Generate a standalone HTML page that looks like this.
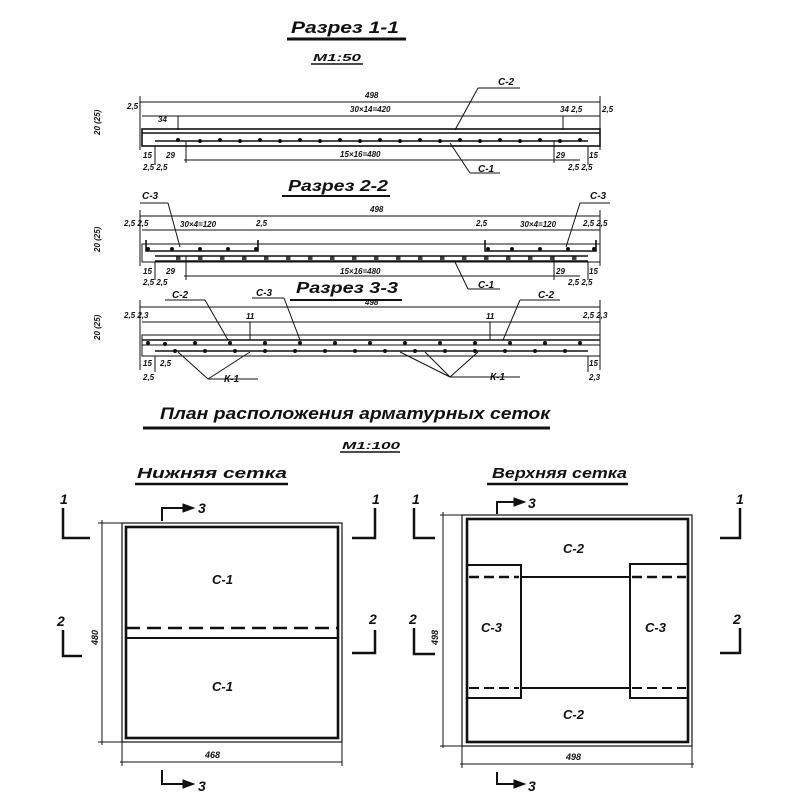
<!DOCTYPE html>
<html><head><meta charset="utf-8"><style>
html,body{margin:0;padding:0;background:#fff;width:800px;height:800px;overflow:hidden}
svg{display:block}
text{font-family:"Liberation Sans","DejaVu Sans",sans-serif;font-style:italic;font-weight:bold;fill:#111}
</style></head><body>
<svg width="800" height="800" viewBox="0 0 800 800" xmlns="http://www.w3.org/2000/svg" stroke="#111" fill="none">
<text x="291" y="33" font-size="17" stroke="none" textLength="108" lengthAdjust="spacingAndGlyphs">Разрез 1-1</text>
<line x1="287" y1="39" x2="406" y2="39" stroke-width="3"/>
<text x="313" y="61" font-size="10" stroke="none" textLength="48" lengthAdjust="spacingAndGlyphs">М1:50</text>
<line x1="311" y1="64" x2="363" y2="64" stroke-width="1.5"/>

<g stroke-width="1">
<line x1="140" y1="102" x2="600" y2="102"/>
<line x1="142" y1="116" x2="600" y2="116"/>
<line x1="140" y1="96" x2="140" y2="150"/>
<line x1="600" y1="96" x2="600" y2="150"/>
<line x1="184" y1="160" x2="580" y2="160"/>
<rect x="142" y="129" width="458" height="17" stroke-width="1.6"/>
<line x1="142" y1="133" x2="600" y2="133" stroke-width="1.5"/>
<line x1="155" y1="141" x2="588" y2="141" stroke-width="1.5"/>
<line x1="155" y1="146" x2="155" y2="165"/>
<line x1="588" y1="146" x2="588" y2="165"/>
<line x1="178" y1="116" x2="178" y2="130"/>
<line x1="563" y1="116" x2="563" y2="130"/>
<line x1="186" y1="141" x2="186" y2="163"/>
<line x1="554" y1="141" x2="554" y2="163"/>
<line x1="478" y1="88" x2="520" y2="88"/><line x1="478" y1="88" x2="455" y2="130"/>
<line x1="470" y1="173" x2="500" y2="173"/><line x1="470" y1="173" x2="450" y2="143"/>
</g>
<g fill="#111" stroke="none">
<circle cx="178" cy="140" r="2"/><circle cx="200" cy="141" r="2"/><circle cx="220" cy="140" r="2"/><circle cx="240" cy="141" r="2"/><circle cx="260" cy="140" r="2"/><circle cx="280" cy="141" r="2"/><circle cx="300" cy="140" r="2"/><circle cx="320" cy="141" r="2"/><circle cx="340" cy="140" r="2"/><circle cx="360" cy="141" r="2"/><circle cx="380" cy="140" r="2"/><circle cx="400" cy="141" r="2"/><circle cx="420" cy="140" r="2"/><circle cx="440" cy="141" r="2"/><circle cx="460" cy="140" r="2"/><circle cx="480" cy="141" r="2"/><circle cx="500" cy="140" r="2"/><circle cx="520" cy="141" r="2"/><circle cx="540" cy="140" r="2"/><circle cx="560" cy="141" r="2"/><circle cx="580" cy="140" r="2"/>
</g>
<g font-size="8" stroke="none">
<text x="365" y="98">498</text><text x="350" y="112">30×14=420</text><text x="340" y="157">15×16=480</text>
<text x="498" y="85" font-size="10">С-2</text><text x="478" y="172" font-size="10">С-1</text>
<text x="127" y="109">2,5</text><text x="158" y="122">34</text><text x="560" y="112">34 2,5</text><text x="602" y="112">2,5</text>
<text x="143" y="158">15</text><text x="166" y="158">29</text><text x="556" y="158">29</text><text x="589" y="158">15</text>
<text x="143" y="170">2,5 2,5</text><text x="568" y="170">2,5 2,5</text>
<text x="100" y="135" transform="rotate(-90 100 135)">20 (25)</text>
</g>

<text x="288" y="191" font-size="16" stroke="none" textLength="100" lengthAdjust="spacingAndGlyphs">Разрез 2-2</text>
<line x1="282" y1="196" x2="390" y2="196" stroke-width="2"/>
<g stroke-width="1">
<line x1="140" y1="216" x2="600" y2="216"/>
<line x1="142" y1="230" x2="600" y2="230"/>
<line x1="140" y1="210" x2="140" y2="266"/>
<line x1="600" y1="210" x2="600" y2="266"/>
<rect x="142" y="244" width="458" height="18" stroke-width="1"/>
<polyline points="146,240 146,251 258,251 258,240" stroke-width="1.6"/>
<polyline points="485,240 485,251 596,251 596,240" stroke-width="1.6"/>
<line x1="155" y1="256" x2="588" y2="256" stroke-width="1.5"/>
<line x1="155" y1="261" x2="588" y2="261" stroke-width="1.5"/>
<line x1="184" y1="276" x2="580" y2="276"/>
<line x1="155" y1="262" x2="155" y2="280"/><line x1="588" y1="262" x2="588" y2="280"/>
<line x1="186" y1="256" x2="186" y2="280"/><line x1="554" y1="256" x2="554" y2="280"/>
<line x1="140" y1="203" x2="168" y2="203"/><line x1="168" y1="203" x2="180" y2="247"/>
<line x1="580" y1="203" x2="610" y2="203"/><line x1="580" y1="203" x2="566" y2="247"/>
<line x1="468" y1="289" x2="500" y2="289"/><line x1="468" y1="289" x2="455" y2="262"/>
</g>
<g fill="#111" stroke="none">
<circle cx="148" cy="249" r="2"/><circle cx="172" cy="249" r="2"/><circle cx="200" cy="249" r="2"/><circle cx="228" cy="249" r="2"/><circle cx="256" cy="249" r="2"/>
<circle cx="488" cy="249" r="2"/><circle cx="512" cy="249" r="2"/><circle cx="540" cy="249" r="2"/><circle cx="568" cy="249" r="2"/><circle cx="594" cy="249" r="2"/>
</g>
<defs><pattern id="dash" width="22" height="4" patternUnits="userSpaceOnUse"><rect x="0" y="0" width="4" height="4" fill="#111"/></pattern></defs>
<rect x="160" y="256" width="430" height="4" fill="url(#dash)" stroke="none" opacity="0.8"/>
<g font-size="8" stroke="none">
<text x="370" y="212">498</text><text x="180" y="227">30×4=120</text><text x="520" y="227">30×4=120</text>
<text x="340" y="274">15×16=480</text>
<text x="142" y="199" font-size="10">С-3</text><text x="590" y="199" font-size="10">С-3</text><text x="478" y="288" font-size="10">С-1</text>
<text x="124" y="226">2,5 2,5</text><text x="256" y="226">2,5</text><text x="476" y="226">2,5</text><text x="583" y="226">2,5 2,5</text>
<text x="143" y="274">15</text><text x="166" y="274">29</text><text x="556" y="274">29</text><text x="589" y="274">15</text>
<text x="143" y="285">2,5 2,5</text><text x="568" y="285">2,5 2,5</text>
<text x="100" y="252" transform="rotate(-90 100 252)">20 (25)</text>
</g>

<text x="296" y="293" font-size="16" stroke="none" textLength="102" lengthAdjust="spacingAndGlyphs">Разрез 3-3</text>
<line x1="290" y1="300" x2="402" y2="300" stroke-width="2"/>
<g stroke-width="1">
<line x1="140" y1="307" x2="600" y2="307"/>
<line x1="142" y1="322" x2="600" y2="322"/>
<line x1="140" y1="300" x2="140" y2="370"/>
<line x1="600" y1="300" x2="600" y2="370"/>
<rect x="142" y="335" width="458" height="21"/>
<line x1="142" y1="340" x2="600" y2="340" stroke-width="1.6"/>
<line x1="142" y1="345" x2="600" y2="345"/>
<line x1="155" y1="351" x2="588" y2="351" stroke-width="1.6"/>
<line x1="155" y1="356" x2="155" y2="372"/><line x1="588" y1="356" x2="588" y2="372"/>
<line x1="250" y1="322" x2="250" y2="340"/><line x1="490" y1="322" x2="490" y2="340"/>
<line x1="165" y1="300" x2="205" y2="300"/><line x1="205" y1="300" x2="228" y2="340"/>
<line x1="252" y1="298" x2="284" y2="298"/><line x1="284" y1="298" x2="300" y2="340"/>
<line x1="520" y1="300" x2="560" y2="300"/><line x1="520" y1="300" x2="503" y2="340"/>
<line x1="208" y1="379" x2="258" y2="379"/><line x1="208" y1="379" x2="178" y2="352"/><line x1="208" y1="379" x2="250" y2="352"/>
<line x1="450" y1="377" x2="520" y2="377"/><line x1="450" y1="377" x2="400" y2="352"/><line x1="450" y1="377" x2="425" y2="352"/><line x1="450" y1="377" x2="478" y2="352"/>
</g>
<g fill="#111" stroke="none">
<circle cx="148" cy="343" r="2"/><circle cx="165" cy="344" r="2"/><circle cx="195" cy="343" r="2"/><circle cx="230" cy="343" r="2"/><circle cx="265" cy="343" r="2"/><circle cx="300" cy="343" r="2"/><circle cx="335" cy="343" r="2"/><circle cx="370" cy="343" r="2"/><circle cx="405" cy="343" r="2"/><circle cx="440" cy="343" r="2"/><circle cx="475" cy="343" r="2"/><circle cx="510" cy="343" r="2"/><circle cx="545" cy="343" r="2"/><circle cx="580" cy="343" r="2"/>
<circle cx="175" cy="351" r="2"/><circle cx="205" cy="351" r="2"/><circle cx="235" cy="351" r="2"/><circle cx="265" cy="351" r="2"/><circle cx="295" cy="351" r="2"/><circle cx="325" cy="351" r="2"/><circle cx="355" cy="351" r="2"/><circle cx="385" cy="351" r="2"/><circle cx="415" cy="351" r="2"/><circle cx="445" cy="351" r="2"/><circle cx="475" cy="351" r="2"/><circle cx="505" cy="351" r="2"/><circle cx="535" cy="351" r="2"/><circle cx="565" cy="351" r="2"/>
</g>
<g font-size="8" stroke="none">
<text x="365" y="305">498</text>
<text x="172" y="298" font-size="10">С-2</text><text x="256" y="296" font-size="10">С-3</text><text x="538" y="298" font-size="10">С-2</text>
<text x="224" y="382" font-size="10">К-1</text><text x="490" y="380" font-size="10">К-1</text>
<text x="124" y="318">2,5 2,3</text><text x="246" y="319">11</text><text x="486" y="319">11</text><text x="583" y="318">2,5 2,3</text>
<text x="143" y="366">15</text><text x="160" y="366">2,5</text><text x="589" y="366">15</text>
<text x="143" y="380">2,5</text><text x="589" y="380">2,3</text>
<text x="100" y="340" transform="rotate(-90 100 340)">20 (25)</text>
</g>

<text x="160" y="419" font-size="17" stroke="none" textLength="390" lengthAdjust="spacingAndGlyphs">План расположения арматурных сеток</text>
<line x1="143" y1="428" x2="550" y2="428" stroke-width="3"/>
<text x="342" y="449" font-size="10" stroke="none" textLength="58" lengthAdjust="spacingAndGlyphs">М1:100</text>
<line x1="340" y1="452" x2="400" y2="452" stroke-width="1.5"/>
<text x="137" y="478" font-size="15" stroke="none" textLength="150" lengthAdjust="spacingAndGlyphs">Нижняя сетка</text>
<line x1="135" y1="484" x2="288" y2="484" stroke-width="2.5"/>
<text x="492" y="478" font-size="15" stroke="none" textLength="135" lengthAdjust="spacingAndGlyphs">Верхняя сетка</text>
<line x1="487" y1="484" x2="628" y2="484" stroke-width="2.5"/>

<g>
<rect x="122" y="523" width="220" height="219" stroke-width="1.2"/>
<rect x="126" y="527" width="212" height="211" stroke-width="2.6"/>
<line x1="126" y1="628" x2="338" y2="628" stroke-width="2.4" stroke-dasharray="14,7"/>
<line x1="126" y1="638" x2="338" y2="638" stroke-width="2"/>
<line x1="102" y1="520" x2="102" y2="745" stroke-width="1"/>
<line x1="98" y1="523" x2="124" y2="523" stroke-width="1"/>
<line x1="98" y1="742" x2="124" y2="742" stroke-width="1"/>
<line x1="120" y1="762" x2="342" y2="762" stroke-width="1"/>
<line x1="122" y1="742" x2="122" y2="766" stroke-width="1"/>
<line x1="342" y1="742" x2="342" y2="766" stroke-width="1"/>
<path d="M63,508 V538 H90" stroke-width="2.5"/>
<path d="M375,508 V538 H352" stroke-width="2.5"/>
<path d="M63,630 V656 H82" stroke-width="2.5"/>
<path d="M375,630 V653 H352" stroke-width="2.5"/>
<path d="M162,521 V508 H190" stroke-width="2"/><path d="M183,504 L194,508 L183,512 Z" fill="#111"/>
<path d="M162,770 V784 H190" stroke-width="2"/><path d="M183,780 L194,784 L183,788 Z" fill="#111"/>
</g>
<g stroke="none">
<text x="60" y="504" font-size="14">1</text><text x="372" y="504" font-size="14">1</text>
<text x="57" y="626" font-size="14">2</text><text x="369" y="624" font-size="14">2</text>
<text x="198" y="513" font-size="14">3</text><text x="198" y="791" font-size="14">3</text>
<text x="212" y="584" font-size="13">С-1</text><text x="212" y="691" font-size="13">С-1</text>
<text x="205" y="758" font-size="9">468</text>
<text x="98" y="645" font-size="9" transform="rotate(-90 98 645)">480</text>
</g>

<g>
<rect x="462" y="515" width="230" height="231" stroke-width="1.2"/>
<rect x="467" y="519" width="221" height="223" stroke-width="2.6"/>
<line x1="521" y1="577" x2="630" y2="577" stroke-width="2"/>
<line x1="521" y1="688" x2="630" y2="688" stroke-width="2"/>
<rect x="467" y="565" width="54" height="133" stroke-width="2"/>
<rect x="630" y="564" width="58" height="134" stroke-width="2"/>
<line x1="469" y1="577" x2="519" y2="577" stroke-width="2.4" stroke-dasharray="10,5"/>
<line x1="632" y1="577" x2="686" y2="577" stroke-width="2.4" stroke-dasharray="10,5"/>
<line x1="469" y1="688" x2="519" y2="688" stroke-width="2" stroke-dasharray="10,5"/>
<line x1="632" y1="688" x2="686" y2="688" stroke-width="2" stroke-dasharray="10,5"/>
<line x1="443" y1="512" x2="443" y2="748" stroke-width="1"/>
<line x1="440" y1="515" x2="464" y2="515" stroke-width="1"/>
<line x1="440" y1="746" x2="464" y2="746" stroke-width="1"/>
<line x1="460" y1="764" x2="694" y2="764" stroke-width="1"/>
<line x1="462" y1="746" x2="462" y2="768" stroke-width="1"/>
<line x1="692" y1="746" x2="692" y2="768" stroke-width="1"/>
<path d="M414,508 V538 H435" stroke-width="2.5"/>
<path d="M740,508 V538 H720" stroke-width="2.5"/>
<path d="M414,628 V654 H435" stroke-width="2.5"/>
<path d="M740,628 V653 H720" stroke-width="2.5"/>
<path d="M497,514 V502 H520" stroke-width="2"/><path d="M514,498 L525,502 L514,506 Z" fill="#111"/>
<path d="M497,772 V784 H520" stroke-width="2"/><path d="M514,780 L525,784 L514,788 Z" fill="#111"/>
</g>
<g stroke="none">
<text x="412" y="504" font-size="14">1</text><text x="736" y="504" font-size="14">1</text>
<text x="409" y="624" font-size="14">2</text><text x="733" y="624" font-size="14">2</text>
<text x="528" y="508" font-size="14">3</text><text x="528" y="791" font-size="14">3</text>
<text x="563" y="553" font-size="13">С-2</text><text x="563" y="719" font-size="13">С-2</text>
<text x="481" y="632" font-size="13">С-3</text><text x="645" y="632" font-size="13">С-3</text>
<text x="566" y="760" font-size="9">498</text>
<text x="438" y="645" font-size="9" transform="rotate(-90 438 645)">498</text>
</g>
</svg>
</body></html>
